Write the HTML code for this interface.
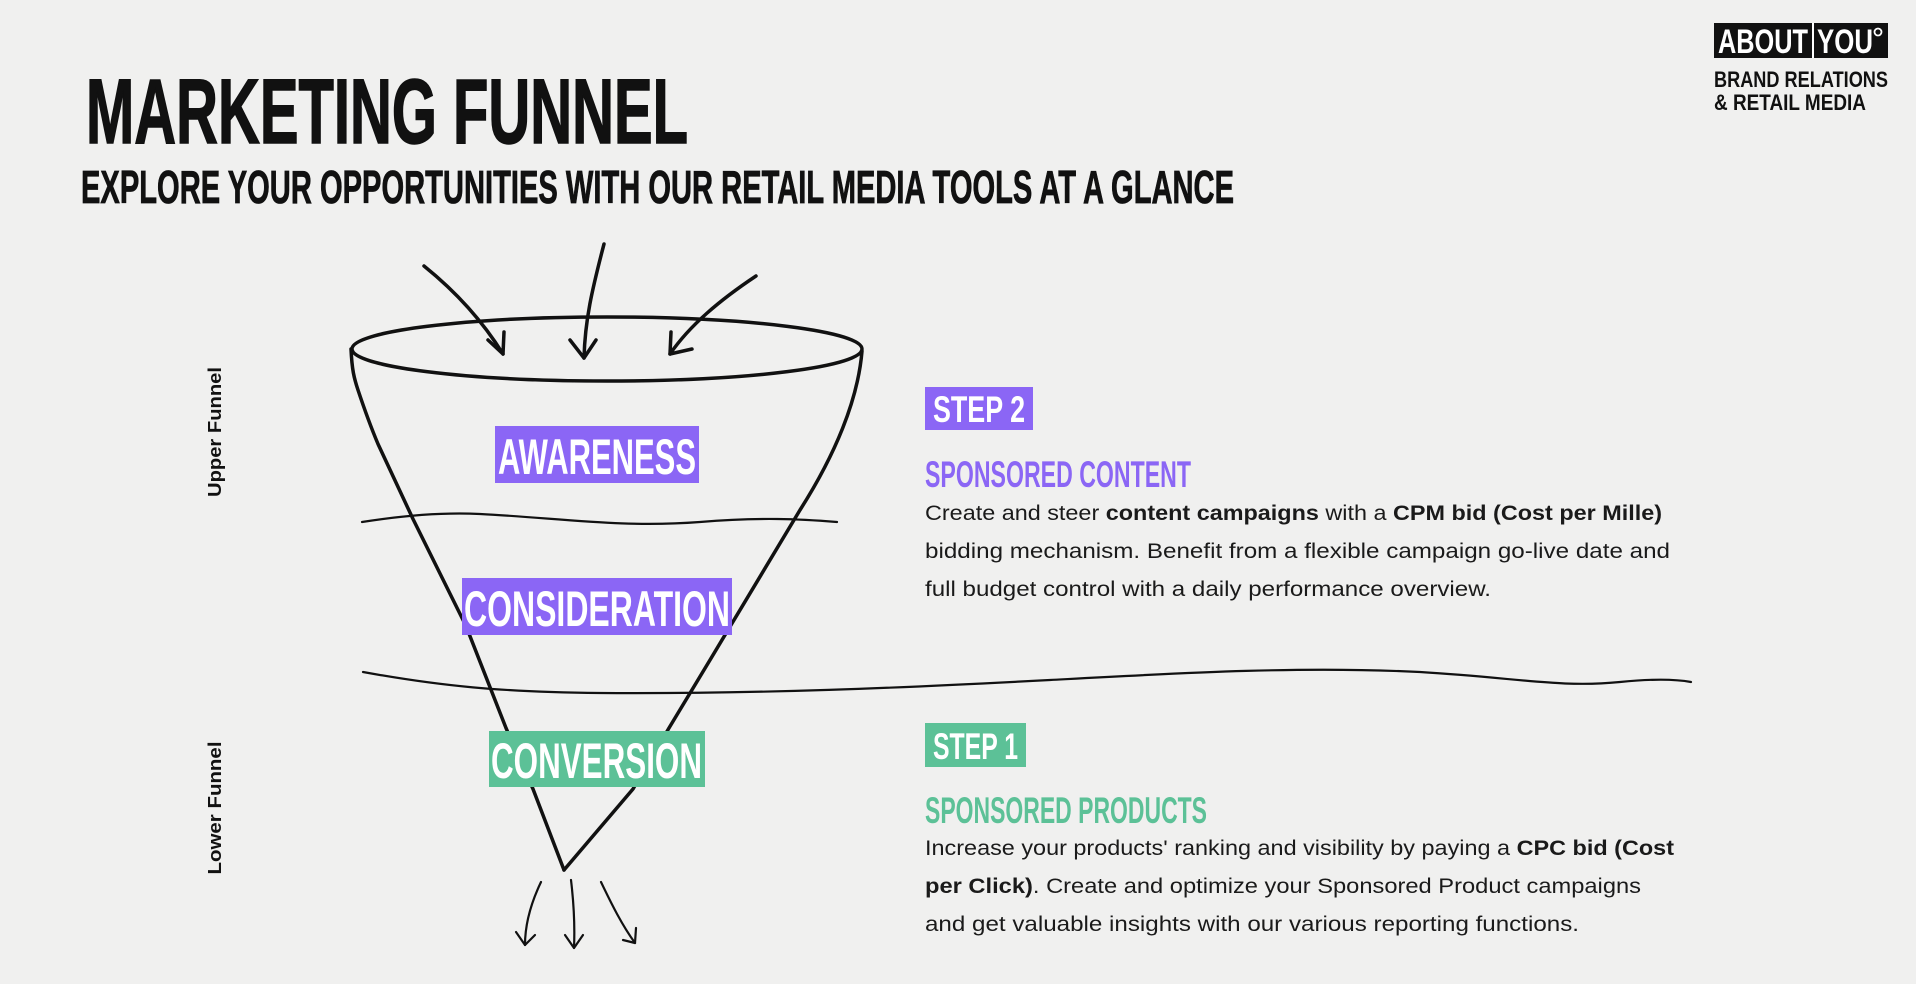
<!DOCTYPE html>
<html><head><meta charset="utf-8"><style>
html,body{margin:0;padding:0;background:#f0f0ef;}
svg{display:block}
</style></head><body>
<svg width="1916" height="984" viewBox="0 0 1916 984" xmlns="http://www.w3.org/2000/svg" font-family="Liberation Sans, sans-serif">
<rect width="1916" height="984" fill="#f0f0ef"/>
<!-- titles -->
<text x="86" y="143" font-size="92" font-weight="bold" fill="#111" stroke="#111" stroke-width="1.5" textLength="602" lengthAdjust="spacingAndGlyphs">MARKETING FUNNEL</text>
<text x="81" y="203" font-size="46" font-weight="bold" fill="#111" stroke="#111" stroke-width="0.8" textLength="1153" lengthAdjust="spacingAndGlyphs">EXPLORE YOUR OPPORTUNITIES WITH OUR RETAIL MEDIA TOOLS AT A GLANCE</text>
<!-- logo -->
<rect x="1714" y="23" width="174" height="35" fill="#111"/>
<line x1="1813" y1="23" x2="1813" y2="58" stroke="#fff" stroke-width="2"/>
<text x="1718" y="53" font-size="34" font-weight="bold" fill="#fff" textLength="90" lengthAdjust="spacingAndGlyphs">ABOUT</text>
<text x="1817" y="53" font-size="34" font-weight="bold" fill="#fff" textLength="56" lengthAdjust="spacingAndGlyphs">YOU</text>
<circle cx="1878" cy="32" r="3.5" fill="none" stroke="#fff" stroke-width="1.8"/>
<text x="1714" y="87" font-size="22" font-weight="bold" fill="#111" textLength="174" lengthAdjust="spacingAndGlyphs">BRAND RELATIONS</text>
<text x="1714" y="110" font-size="22" font-weight="bold" fill="#111" textLength="152" lengthAdjust="spacingAndGlyphs">&amp; RETAIL MEDIA</text>
<!-- funnel -->
<g fill="none" stroke="#111" stroke-width="3.5" stroke-linecap="round" stroke-linejoin="round">
<ellipse cx="607" cy="349" rx="255" ry="32"/>
<path d="M351 349 C352 370 354 378 358 390 C364 408 370 425 378 444 L413 519 L466 626 L506 728 L533 789 L564 870"/>
<path d="M862 351 C858 400 835 455 800 510 C770 560 740 610 710 660 L669 728 L633 789 L564 870"/>
<!-- top arrows -->
<path d="M424 266 C460 295 485 325 503 354"/>
<path d="M488 340 L503 354 L504 332"/>
<path d="M604 244 C592 290 585 320 584 358"/>
<path d="M570 340 L584 358 L596 340"/>
<path d="M756 276 C720 300 690 325 670 354"/>
<path d="M671 332 L670 354 L692 349"/>
</g>
<g fill="none" stroke="#111" stroke-width="2.2" stroke-linecap="round" stroke-linejoin="round">
<!-- bottom arrows -->
<path d="M541 882 C530 905 525 925 525 945"/>
<path d="M516 932 L525 945 L535 935"/>
<path d="M571 880 C574 905 575 925 574 948"/>
<path d="M565 935 L574 948 L583 935"/>
<path d="M601 882 C612 905 622 925 635 943"/>
<path d="M623 940 L635 943 L636 928"/>
<!-- wavy lines -->
<path d="M362 522 C400 516 440 512 480 514 C560 518 620 528 700 522 C760 517 800 519 837 522"/>
<path d="M363 672 C440 686 500 692 600 693 C760 694 900 688 1050 680 C1180 673 1300 666 1420 672 C1520 678 1560 688 1620 682 C1660 678 1680 680 1691 682"/>
</g>
<!-- labels -->
<rect x="495" y="426" width="204" height="57" fill="#8b66f5"/>
<text x="498" y="474" font-size="50" font-weight="bold" fill="#fff" textLength="198" lengthAdjust="spacingAndGlyphs">AWARENESS</text>
<rect x="462" y="578" width="270" height="57" fill="#8b66f5"/>
<text x="464" y="626" font-size="50" font-weight="bold" fill="#fff" textLength="266" lengthAdjust="spacingAndGlyphs">CONSIDERATION</text>
<rect x="489" y="731" width="216" height="56" fill="#5cc197"/>
<text x="491" y="778" font-size="50" font-weight="bold" fill="#fff" textLength="211" lengthAdjust="spacingAndGlyphs">CONVERSION</text>
<!-- side labels -->
<text transform="translate(221 432) rotate(-90)" text-anchor="middle" font-size="18" font-weight="bold" fill="#111" textLength="130" lengthAdjust="spacingAndGlyphs">Upper Funnel</text>
<text transform="translate(221 808) rotate(-90)" text-anchor="middle" font-size="18" font-weight="bold" fill="#111" textLength="133" lengthAdjust="spacingAndGlyphs">Lower Funnel</text>
<!-- step 2 -->
<rect x="925" y="387" width="108" height="43" fill="#8b66f5"/>
<text x="933" y="422" font-size="37" font-weight="bold" fill="#fff" textLength="92" lengthAdjust="spacingAndGlyphs">STEP 2</text>
<text x="925" y="487" font-size="37" font-weight="bold" fill="#8b66f5" textLength="266" lengthAdjust="spacingAndGlyphs">SPONSORED CONTENT</text>
<g font-size="21" fill="#1a1a1a">
<text x="925" y="520" textLength="737" lengthAdjust="spacingAndGlyphs">Create and steer <tspan font-weight="bold">content campaigns</tspan> with a <tspan font-weight="bold">CPM bid (Cost per Mille)</tspan></text>
<text x="925" y="558" textLength="745" lengthAdjust="spacingAndGlyphs">bidding mechanism. Benefit from a flexible campaign go-live date and</text>
<text x="925" y="596" textLength="566" lengthAdjust="spacingAndGlyphs">full budget control with a daily performance overview.</text>
</g>
<!-- step 1 -->
<rect x="925" y="723" width="101" height="44" fill="#5cc197"/>
<text x="933" y="759" font-size="37" font-weight="bold" fill="#fff" textLength="85" lengthAdjust="spacingAndGlyphs">STEP 1</text>
<text x="925" y="823" font-size="37" font-weight="bold" fill="#5cc197" textLength="282" lengthAdjust="spacingAndGlyphs">SPONSORED PRODUCTS</text>
<g font-size="21" fill="#1a1a1a">
<text x="925" y="855" textLength="749" lengthAdjust="spacingAndGlyphs">Increase your products' ranking and visibility by paying a <tspan font-weight="bold">CPC bid (Cost</tspan></text>
<text x="925" y="893" textLength="716" lengthAdjust="spacingAndGlyphs"><tspan font-weight="bold">per Click)</tspan>. Create and optimize your Sponsored Product campaigns</text>
<text x="925" y="931" textLength="654" lengthAdjust="spacingAndGlyphs">and get valuable insights with our various reporting functions.</text>
</g>
</svg>
</body></html>
